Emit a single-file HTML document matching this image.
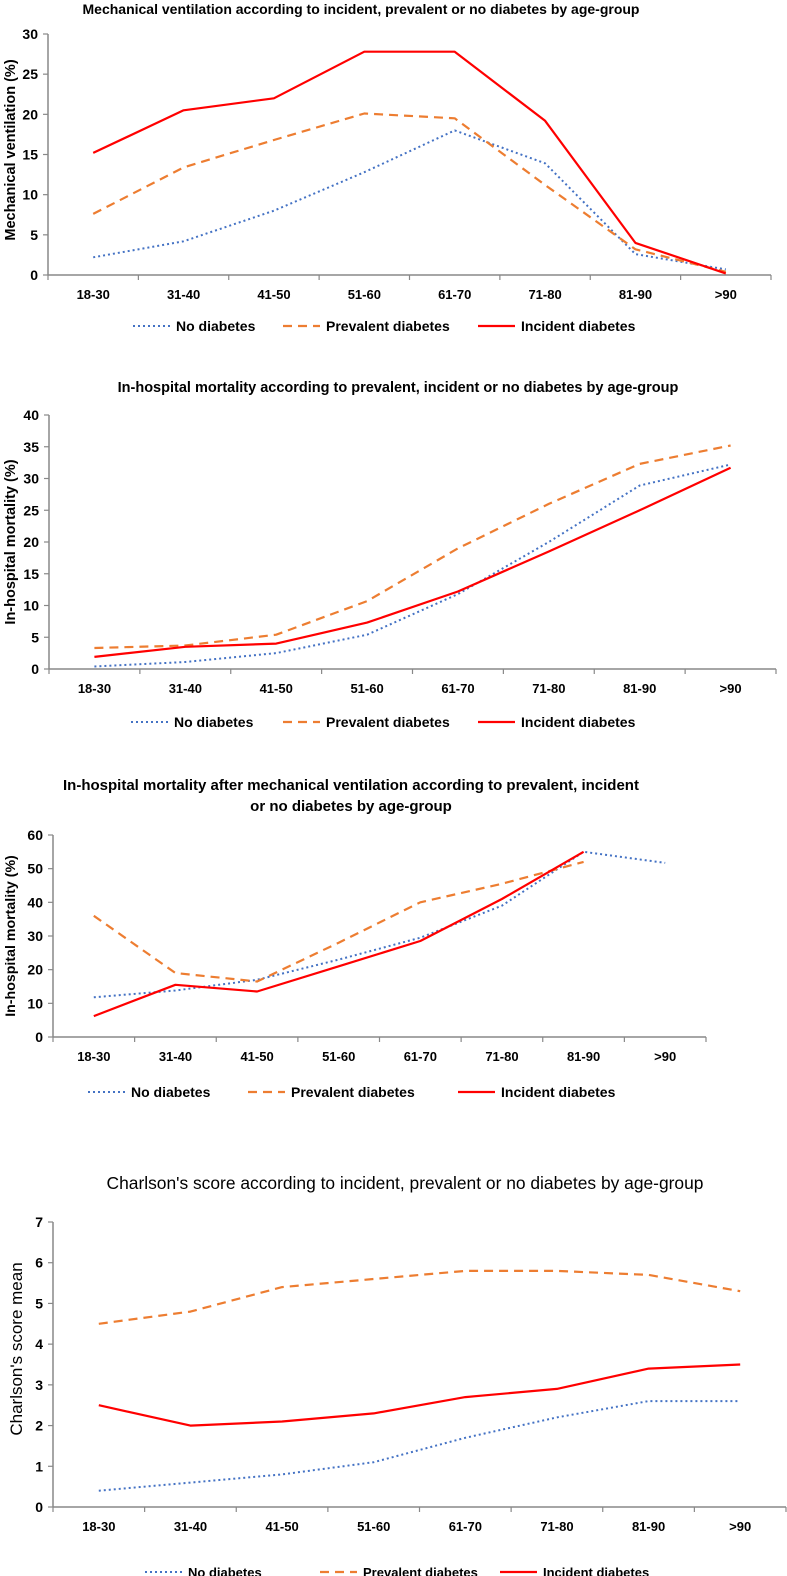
<!DOCTYPE html>
<html><head><meta charset="utf-8">
<style>
html,body{margin:0;padding:0;background:#fff;}
svg{display:block;font-family:"Liberation Sans",Arial,sans-serif;}
</style></head>
<body>
<svg id="fig" width="787" height="1576" viewBox="0 0 787 1576"></svg>
<script>
const categories = ["18-30","31-40","41-50","51-60","61-70","71-80","81-90",">90"];

const c1Ticks = [0,5,10,15,20,25,30];
const c1None = [2.2,4.2,8,12.8,18,13.9,2.6,0.7];
const c1Prev = [7.6,13.4,16.8,20.1,19.5,11.2,3.2,0.4];
const c1Inc = [15.2,20.5,22,27.8,27.8,19.2,4,0.2];

const c2Ticks = [0,5,10,15,20,25,30,35,40];
const c2None = [0.4,1.1,2.5,5.4,11.8,20,28.9,32.2];
const c2Prev = [3.3,3.7,5.4,10.7,19,26,32.3,35.2];
const c2Inc = [1.9,3.5,4,7.3,12.2,18.5,25,31.7];

const c3Ticks = [0,10,20,30,40,50,60];
const c3None = [11.8,13.8,17,23,29.5,39,55,51.7];
const c3Prev = [36,19,16.5,28,40,45.5,52,null];
const c3Inc = [6.2,15.5,13.5,21,28.5,41,55,null];

const c4Ticks = [0,1,2,3,4,5,6,7];
const c4None = [0.4,0.6,0.8,1.1,1.7,2.2,2.6,2.6];
const c4Prev = [4.5,4.8,5.4,5.6,5.8,5.8,5.7,5.3];
const c4Inc = [2.5,2.0,2.1,2.3,2.7,2.9,3.4,3.5];

const NS="http://www.w3.org/2000/svg";
const svg=document.getElementById('fig');
function mk(tag,attrs,parent){const e=document.createElementNS(NS,tag);for(const k in attrs)e.setAttribute(k,attrs[k]);(parent||svg).appendChild(e);return e;}

const styles={
  none:{stroke:"#4472C4",dash:"2,3",width:2},
  prev:{stroke:"#ED7D31",dash:"9,6",width:2.2},
  inc:{stroke:"#FF0000",dash:"",width:2.2}
};

function chart(cfg){
  const g=mk('g',{});
  
  
  const maxV=cfg.ticks[cfg.ticks.length-1];
  const step=(cfg.x1-cfg.x0)/categories.length;
  const xs=i=>cfg.x0+step*(i+0.5);
  const ys=v=>cfg.y0-(v/maxV)*(cfg.y0-cfg.yTop);
  cfg.title.forEach((t,i)=>{
    const tt=mk('text',{x:cfg.titleX,y:cfg.titleY+i*21,'text-anchor':'middle','font-size':cfg.titleSize,'font-weight':cfg.titleBold?'bold':'normal',fill:'#000'},g);
    tt.textContent=t;
    
    
  });
  const ya=mk('line',{x1:cfg.x0,y1:cfg.yTop,x2:cfg.x0,y2:cfg.y0,stroke:'#888','stroke-width':1.5},g);
  
  
  const xa=mk('line',{x1:cfg.x0,y1:cfg.y0,x2:cfg.x1,y2:cfg.y0,stroke:'#888','stroke-width':1.5},g);
  
  
  cfg.ticks.forEach(v=>{
    const y=ys(v);
    mk('line',{x1:cfg.x0-5,y1:y,x2:cfg.x0,y2:y,stroke:'#888','stroke-width':1.2},g);
    const t=mk('text',{x:cfg.x0-10,y:y+5,'text-anchor':'end','font-size':14,'font-weight':'bold'},g);
    t.textContent=v;
    
    
  });
  for(let i=0;i<=categories.length;i++){
    const x=cfg.x0+step*i;
    mk('line',{x1:x,y1:cfg.y0,x2:x,y2:cfg.y0+5,stroke:'#888','stroke-width':1.2},g);
  }
  categories.forEach((c,i)=>{
    const t=mk('text',{x:xs(i),y:cfg.y0+24,'text-anchor':'middle','font-size':13,'font-weight':'bold'},g);
    t.textContent=c;
    
    
  });
  const yc=cfg.yTitleY||(cfg.yTop+cfg.y0)/2;
  const yt=mk('text',{x:0,y:0,transform:`translate(${cfg.yTitleX},${yc}) rotate(-90)`,'text-anchor':'middle','font-size':cfg.yTitleSize,'font-weight':cfg.yTitleBold?'bold':'normal'},g);
  yt.textContent=cfg.yTitle;
  
  
  [['none',cfg.none],['prev',cfg.prev],['inc',cfg.inc]].forEach(([k,vals])=>{
    const pts=[];
    vals.forEach((v,i)=>{if(v!==null)pts.push(xs(i).toFixed(1)+','+ys(v).toFixed(1));});
    const s=styles[k];
    const p=mk('polyline',{points:pts.join(' '),fill:'none',stroke:s.stroke,'stroke-width':s.width,'stroke-dasharray':s.dash,'stroke-linejoin':'round'},g);
    
    
  });
  const labels={none:'No diabetes',prev:'Prevalent diabetes',inc:'Incident diabetes'};
  cfg.legendX.forEach((lx,i)=>{
    const k=['none','prev','inc'][i];const s=styles[k];
    const lg=mk('g',{},g);
    
    
    mk('line',{x1:lx,y1:cfg.legendY-5,x2:lx+37,y2:cfg.legendY-5,stroke:s.stroke,'stroke-width':s.width,'stroke-dasharray':s.dash},lg);
    const t=mk('text',{x:lx+43,y:cfg.legendY,'font-size':cfg.legendSize,'font-weight':'bold'},lg);
    t.textContent=labels[k];
  });
}

chart({name:'mechanical-ventilation-chart',title:['Mechanical ventilation according to incident, prevalent or no diabetes by age-group'],
  titleX:361,titleY:14,titleSize:14,titleBold:true,x0:48,x1:771,yTop:34,y0:275,ticks:c1Ticks,
  none:c1None,prev:c1Prev,inc:c1Inc,yTitle:'Mechanical ventilation (%)',yTitleX:15,yTitleY:150,yTitleSize:14.5,yTitleBold:true,
  legendX:[133,283,478],legendY:331,legendSize:14});

chart({name:'in-hospital-mortality-chart',title:['In-hospital mortality according to prevalent, incident or no diabetes by age-group'],
  titleX:398,titleY:392,titleSize:14.5,titleBold:true,x0:49,x1:776,yTop:415,y0:669,ticks:c2Ticks,
  none:c2None,prev:c2Prev,inc:c2Inc,yTitle:'In-hospital mortality (%)',yTitleX:15,yTitleSize:14.5,yTitleBold:true,
  legendX:[131,283,478],legendY:727,legendSize:14});

chart({name:'mortality-after-ventilation-chart',title:['In-hospital mortality after mechanical ventilation according to prevalent, incident','or no diabetes by  age-group'],
  titleX:351,titleY:790,titleSize:15,titleBold:true,x0:53,x1:706,yTop:835,y0:1037,ticks:c3Ticks,
  none:c3None,prev:c3Prev,inc:c3Inc,yTitle:'In-hospital mortality (%)',yTitleX:15,yTitleY:936,yTitleSize:14.2,yTitleBold:true,
  legendX:[88,248,458],legendY:1097,legendSize:14});

chart({name:'charlson-score-chart',title:["Charlson's score according to incident, prevalent or no diabetes by age-group"],
  titleX:405,titleY:1189,titleSize:17.4,titleBold:false,x0:53,x1:786,yTop:1222,y0:1507,ticks:c4Ticks,
  none:c4None,prev:c4Prev,inc:c4Inc,yTitle:"Charlson's score mean",yTitleX:22,yTitleY:1349,yTitleSize:17,yTitleBold:false,
  legendX:[145,320,500],legendY:1577,legendSize:13});
</script>
</body></html>
